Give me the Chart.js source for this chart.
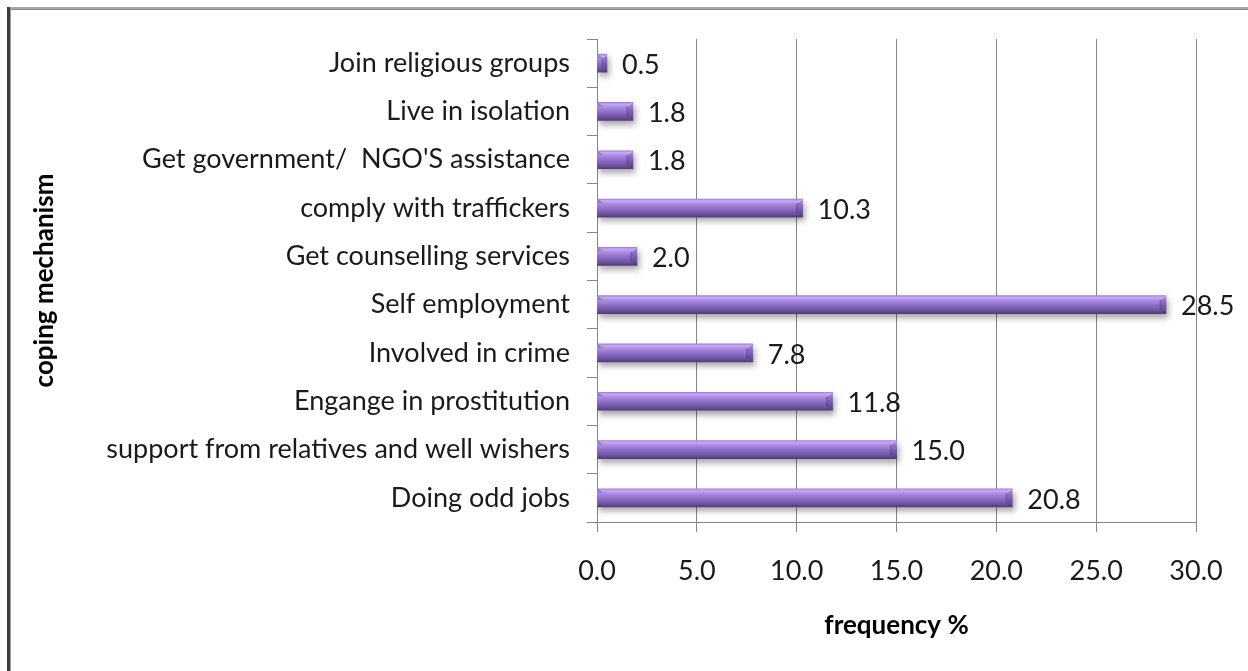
<!DOCTYPE html>
<html>
<head>
<meta charset="utf-8">
<title>Coping mechanism</title>
<script src="https://cdn.jsdelivr.net/npm/chart.js@4/dist/chart.umd.min.js"></script>
<style>
  html, body { margin: 0; padding: 0; background: #fff; }
  #wrap { width: 1248px; height: 671px; }
</style>
</head>
<body>
<div id="wrap"><canvas id="c" width="1248" height="671"></canvas></div>
<script>
// Coping mechanisms, top to bottom as listed on the axis
const categories = [
  'Join religious groups',
  'Live in isolation',
  'Get government/  NGO\'S assistance',
  'comply with traffickers',
  'Get counselling services',
  'Self employment',
  'Involved in crime',
  'Engange in prostitution',
  'support from relatives and well wishers',
  'Doing odd jobs'
];
// Share of respondents (%)
const frequency = [0.5, 1.8, 1.8, 10.3, 2.0, 28.5, 7.8, 11.8, 15.0, 20.8];
// Value axis ticks
const xTickValues = [0, 5, 10, 15, 20, 25, 30];

const BAR_THICK = 18;
const LABEL_FONT = { family: 'Lato', size: 27 };
const TITLE_FONT = { family: 'Lato', size: 26, weight: 'bold' };
const AXIS_GRAY = '#868686';

// Vertical gradient giving each bar its rounded, lit look
function barFill(c) {
  const chart = c.chart;
  const ys = chart.scales && chart.scales.y;
  if (!ys || c.dataIndex === undefined) return '#8064A2';
  const cy = ys.getPixelForValue(c.dataIndex);
  if (!isFinite(cy)) return '#8064A2';
  const h = BAR_THICK / 2;
  const g = chart.ctx.createLinearGradient(0, cy - h, 0, cy + h);
  g.addColorStop(0.00, '#9f82d6');
  g.addColorStop(0.10, '#c4aaf4');
  g.addColorStop(0.28, '#a98ae0');
  g.addColorStop(0.55, '#8c6cc6');
  g.addColorStop(0.80, '#7056a4');
  g.addColorStop(1.00, '#54397f');
  return g;
}

// White page with the framed left and top edges
const framePlugin = {
  id: 'frame',
  beforeDraw(chart) {
    const ctx = chart.ctx;
    ctx.save();
    ctx.fillStyle = '#ffffff';
    ctx.fillRect(0, 0, chart.width, chart.height);
    ctx.fillStyle = '#a6a6a6';
    ctx.fillRect(7, 7, chart.width - 7, 2);
    ctx.fillStyle = '#8a8a8a';
    ctx.fillRect(7, 9, chart.width - 7, 1);
    ctx.fillStyle = '#3c3c3c';
    ctx.fillRect(7, 7, 3, chart.height - 7);
    ctx.fillStyle = '#a0a0a0';
    ctx.fillRect(10, 10, 1, chart.height - 10);
    ctx.restore();
  }
};

// Drop shadow under bars, bevelled ends and value labels
const barDecor = {
  id: 'barDecor',
  beforeDatasetsDraw(chart) {
    const ctx = chart.ctx;
    ctx.save();
    ctx.shadowColor = 'rgba(0,0,0,0.35)';
    ctx.shadowBlur = 6;
    ctx.shadowOffsetX = 2;
    ctx.shadowOffsetY = 4;
  },
  afterDatasetsDraw(chart) {
    const ctx = chart.ctx;
    ctx.restore();
    const meta = chart.getDatasetMeta(0);
    const data = chart.data.datasets[0].data;
    ctx.save();
    meta.data.forEach((el, i) => {
      const p = el.getProps(['x', 'y', 'base', 'height'], true);
      const top = p.y - p.height / 2;
      const bot = p.y + p.height / 2;
      const len = p.x - p.base;
      const cap = Math.min(6, len / 2);
      // right end cap
      ctx.fillStyle = 'rgba(70,45,115,0.25)';
      ctx.beginPath();
      ctx.moveTo(p.x - cap, top + 4);
      ctx.lineTo(p.x, top);
      ctx.lineTo(p.x, bot);
      ctx.lineTo(p.x - cap, bot - 4);
      ctx.closePath();
      ctx.fill();
      ctx.strokeStyle = 'rgba(230,215,255,0.6)';
      ctx.lineWidth = 1;
      ctx.beginPath();
      ctx.moveTo(p.x - cap, top + 4);
      ctx.lineTo(p.x - 0.5, top + 0.5);
      ctx.stroke();
      ctx.strokeStyle = 'rgba(50,30,85,0.35)';
      ctx.beginPath();
      ctx.moveTo(p.x - cap, top + 4);
      ctx.lineTo(p.x - cap, bot - 4);
      ctx.stroke();
      // left end bevel (upper corner only)
      ctx.fillStyle = 'rgba(80,55,125,0.35)';
      ctx.beginPath();
      ctx.moveTo(p.base, top);
      ctx.lineTo(p.base + cap, top + 4);
      ctx.lineTo(p.base, top + 4);
      ctx.closePath();
      ctx.fill();
      // value label
      ctx.fillStyle = '#1a1a1a';
      ctx.font = LABEL_FONT.size + 'px ' + LABEL_FONT.family;
      ctx.textAlign = 'left';
      ctx.textBaseline = 'middle';
      ctx.fillText(Number(data[i]).toFixed(1), p.x + 15, p.y + 2);
    });
    ctx.restore();
  }
};

new Chart(document.getElementById('c'), {
  type: 'bar',
  data: {
    labels: categories,
    datasets: [{
      data: frequency,
      backgroundColor: barFill,
      borderWidth: 0,
      barThickness: BAR_THICK
    }]
  },
  options: {
    indexAxis: 'y',
    responsive: false,
    animation: false,
    devicePixelRatio: 1,
    layout: { padding: { left: 29, top: 39, right: 52, bottom: 30 } },
    plugins: {
      legend: { display: false },
      tooltip: { enabled: false }
    },
    scales: {
      x: {
        min: xTickValues[0],
        max: xTickValues[xTickValues.length - 1],
        afterBuildTicks(scale) {
          scale.ticks = xTickValues.map(v => ({ value: v }));
        },
        afterFit(scale) { scale.height = 119; },
        grid: {
          color: AXIS_GRAY,
          lineWidth: 1,
          drawTicks: true,
          tickLength: 10,
          tickColor: AXIS_GRAY
        },
        border: { display: true, color: AXIS_GRAY },
        ticks: {
          padding: 23,
          color: '#1a1a1a',
          font: LABEL_FONT,
          maxRotation: 0,
          callback: v => Number(v).toFixed(1)
        },
        title: {
          display: true,
          text: 'frequency %',
          color: '#000',
          font: TITLE_FONT,
          padding: { top: 0, bottom: 0 }
        }
      },
      y: {
        afterFit(scale) { scale.width = 568; },
        grid: {
          offset: true,
          drawOnChartArea: false,
          drawTicks: true,
          tickLength: 10,
          color: AXIS_GRAY,
          tickColor: AXIS_GRAY
        },
        border: { display: true, color: AXIS_GRAY },
        ticks: {
          padding: 17,
          color: '#1a1a1a',
          font: LABEL_FONT,
          autoSkip: false
        },
        title: {
          display: true,
          text: 'coping mechanism',
          color: '#000',
          font: TITLE_FONT,
          padding: { top: 0, bottom: 0 }
        }
      }
    }
  },
  plugins: [framePlugin, barDecor]
});
</script>
</body>
</html>
